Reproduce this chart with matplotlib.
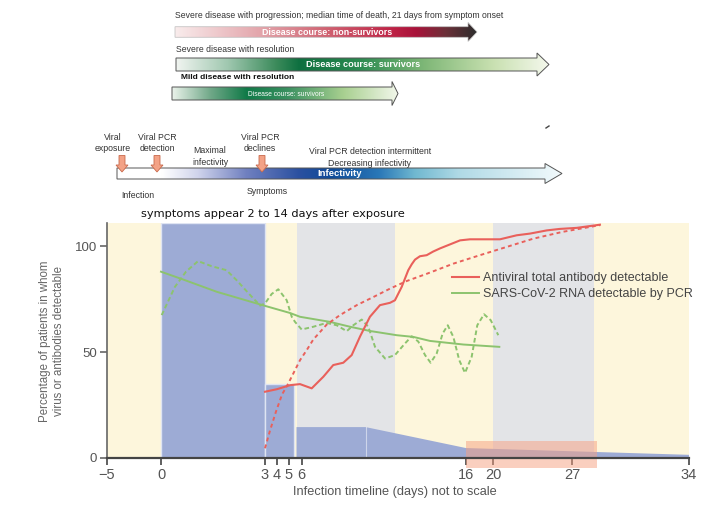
import numpy as np
import matplotlib
matplotlib.use("Agg")
import matplotlib.pyplot as plt
from matplotlib.patches import Polygon, Rectangle
from matplotlib.colors import LinearSegmentedColormap
from matplotlib.lines import Line2D
from matplotlib.ticker import NullLocator

# x axis is "not to scale": tick days
day_ticks = [-5, 0, 3, 4, 5, 6, 16, 20, 27, 34]
y_ticks = [0, 50, 100]

# antiviral total antibody (solid) and its trend (dashed)
ab_days = [3.0, 4.0, 5.08, 5.88, 6.62, 7.33, 7.93, 8.54, 9.05, 9.56, 10.16, 10.77,
           11.38, 11.68, 12.09, 12.49, 12.70, 12.90, 13.20, 13.61, 14.0, 14.42, 15.64,
           16.59, 17.5, 19.07, 20.62, 22.10, 23.28, 24.76, 25.9, 27.28, 28.67]
ab_pct = [31.3, 32.5, 34.4, 34.9, 32.9, 38.4, 43.9, 45.0, 48.6, 57.4, 66.7, 72.2,
          73.3, 74.5, 80.8, 88.7, 91.5, 93.7, 95.3, 95.8, 97.5, 99.0, 102.8,
          103.3, 103.3, 103.3, 103.3, 105.2, 106.0, 107.5, 108.2, 108.7, 110.2]
ab_trend_days = [3.0, 3.42, 3.92, 4.42, 4.94, 5.48, 5.88, 6.32, 6.72, 7.53, 8.34, 9.36,
                 10.36, 11.38, 12.40, 13.61, 15.23, 18.07, 21.21, 23.57, 26.15, 27.48, 28.68]
ab_trend_pct = [4.6, 13, 22, 30, 35.2, 41.5, 46.2, 51, 56, 63, 67.5, 72.2,
                76, 80, 83.6, 87, 91.8, 95.8, 99.7, 103.6, 106.8, 108.3, 110]

# SARS-CoV-2 RNA by PCR (dashed) and its trend (solid)
pcr_days = [0.02, 0.40, 0.72, 1.07, 1.46, 1.89, 2.18, 2.57, 2.86, 3.0, 3.56, 4.11, 4.81,
            5.22, 5.48, 6.01, 6.72, 7.53, 8.14, 8.75, 9.15, 9.66, 10.06, 10.47, 11.08,
            11.68, 12.29, 12.70, 13.10, 13.51, 13.85, 14.22, 14.58, 14.89, 15.23, 15.59,
            15.94, 16.84, 17.67, 18.67, 19.66, 20.47]
pcr_pct = [67.5, 80.8, 88, 93, 90.6, 88.7, 84, 77, 72, 73, 77.5, 79.7, 74.5,
           66.7, 64.3, 60.7, 62, 63.8, 62.7, 59.9, 62.7, 65.4, 62, 52.5, 47,
           48.6, 54.1, 57.5, 55, 48.6, 45, 49.4, 58.8, 62.7, 57.2, 46.2,
           40.2, 47.8, 62.7, 67.9, 65.1, 58]
pcr_trend_days = [0, 0.64, 1.61, 2.97, 5.08, 5.88, 7.73, 8.95, 10.16, 11.79, 12.80, 13.81, 15.84, 20.56]
pcr_trend_pct = [88, 84.3, 78.5, 72, 68.5, 66.7, 64.3, 62, 60, 58, 57.2, 55.3, 53.6, 52.5]

# background phases
band_edges = [-5, 0, 3, 5.6, 11.7, 20, 28.3, 34]
band_kind = ["pre", "blue", "pre", "gray", "pre", "gray", "pre"]

# infectivity blocks
early_days = [3, 5.4]
early_level = 35
infect_days = [5.6, 5.6, 9.9, 16, 34, 34]
infect_level = [0, 14.6, 14.6, 4.7, 1.5, 0]
sero_days = [16, 28.5]
sero_level = [-4.7, 8]

RED = "#e9605b"
GREEN = "#8cc36e"
BLUE = "#9dabd5"
band_colors = {"pre": "#fdf6dc", "blue": BLUE, "gray": "#e3e4e7"}
FONT = ["Liberation Sans", "DejaVu Sans"]

W, H = 727, 505
fig = plt.figure(figsize=(W / 100, H / 100), dpi=100)

# ---------- top diagram (pixel coordinates) ----------
deco = fig.add_axes([0, 0, 1, 1])
deco.axis("off")


def grad_arrow(x0, x1, yc, bh, hl, hh, stops, edge="#555555", lw=0.7):
    tip = x1 + hl
    verts = [(x0, yc - bh / 2), (x1, yc - bh / 2), (x1, yc - hh / 2), (tip, yc),
             (x1, yc + hh / 2), (x1, yc + bh / 2), (x0, yc + bh / 2)]
    poly = Polygon(verts, closed=True, facecolor="none", edgecolor=edge, lw=lw, zorder=3)
    deco.add_patch(poly)
    cmap = LinearSegmentedColormap.from_list("g", stops)
    grad = np.linspace(0, 1, 256).reshape(1, -1)
    im = deco.imshow(grad, cmap=cmap, extent=(x0, tip, yc + hh / 2, yc - hh / 2),
                     aspect="auto", zorder=2, interpolation="bilinear")
    im.set_clip_path(poly)


def down_arrow(x, y0, y1, tip):
    verts = [(x - 3, y0), (x + 3, y0), (x + 3, y1), (x + 6, y1), (x, tip),
             (x - 6, y1), (x - 3, y1)]
    deco.add_patch(Polygon(verts, closed=True, facecolor="#f3a286", edgecolor="#c8694c",
                           lw=0.6, zorder=4))


txt = dict(family=FONT, color="#333333")

deco.text(175, 16, "Severe disease with progression; median time of death, 21 days from symptom onset",
          fontsize=6.2, va="center", **txt)
grad_arrow(175, 468, 32, 10.5, 9, 19,
           [(0, "#f9ecec"), (0.28, "#e3a5ab"), (0.5, "#d06372"), (0.72, "#be2245"),
            (0.8, "#a8123a"), (0.9, "#6a3038"), (1, "#2d2d2d")], edge="#bbbbbb", lw=0.5)
deco.text(327, 32.5, "Disease course: non-survivors", fontsize=6.4, color="white",
          weight="bold", ha="center", va="center", family=FONT, zorder=5)

deco.text(176, 50, "Severe disease with resolution", fontsize=6.2, va="center", **txt)
grad_arrow(176, 537, 64.5, 13, 12, 23,
           [(0, "#f0f4f0"), (0.137, "#a0c8b0"), (0.27, "#3a8a5a"), (0.33, "#0e7040"),
            (0.49, "#2a8a50"), (0.67, "#80b878"), (0.85, "#c8e0b0"), (1, "#f4f8ec")])
deco.text(363, 64.5, "Disease course: survivors", fontsize=6.6, color="white",
          weight="bold", ha="center", va="center", family=FONT, zorder=5)

deco.text(181, 77.5, "Mild disease with resolution", fontsize=6, weight="bold",
          va="center", family=FONT, color="#111111")
grad_arrow(172, 392, 93.5, 13, 6, 24,
           [(0, "#eaf2ea"), (0.17, "#70a888"), (0.33, "#107a48"), (0.51, "#3a9060"),
            (0.76, "#a8d090"), (1, "#f2f7ea")])
deco.text(286, 94, "Disease course: survivors", fontsize=4.8, color="white",
          ha="center", va="center", family=FONT, zorder=5)

# infectivity timeline
grad_arrow(117, 545, 173.5, 11, 17, 20,
           [(0, "#ffffff"), (0.10, "#ffffff"), (0.18, "#d0d4ec"), (0.29, "#7080c0"),
            (0.41, "#2a50a0"), (0.48, "#0f4a98"), (0.59, "#2a78b8"), (0.67, "#70b8d0"),
            (0.77, "#b0dae6"), (1, "#f2fafc")])
deco.text(340, 174, "Infectivity", fontsize=6.8, color="white", weight="bold",
          ha="center", va="center", family=FONT, zorder=5)
for x in (122, 157, 262):
    down_arrow(x, 155.5, 165, 172)

lbl = dict(fontsize=6.3, ha="center", va="center", linespacing=1.35, **txt)
deco.text(113, 143, "Viral\nexposure", **lbl)
deco.text(157, 143, "Viral PCR\ndetection", **lbl)
deco.text(210, 156.5, "Maximal\ninfectivity", **lbl)
deco.text(260, 143, "Viral PCR\ndeclines", **lbl)
deco.text(370, 151, "Viral PCR detection intermittent", **lbl)
deco.text(370, 163, "Decreasing infectivity", **lbl)
deco.text(138, 195, "Infection", **lbl)
deco.text(267, 192, "Symptoms", **lbl)
deco.plot([546, 549], [128, 126], color="#444444", lw=1)

deco.text(141, 214, "symptoms appear 2 to 14 days after exposure", fontsize=8.2,
          va="center", family="DejaVu Sans", color="#111111")

deco.set_xlim(0, W)
deco.set_ylim(H, 0)

# ---------- main chart ----------
ax = fig.add_axes([107 / W, (H - 458) / H, 582 / W, 235 / H])
ax.set_facecolor("none")
axis_pos = [0, 54, 158, 170, 182, 194.5, 359, 386, 465, 582]


def fwd(x):
    return np.interp(x, day_ticks, axis_pos)


def inv(p):
    return np.interp(p, axis_pos, day_ticks)


ax.set_xscale("function", functions=(fwd, inv))

for a, b, k in zip(band_edges[:-1], band_edges[1:], band_kind):
    if k == "blue":
        ax.axvspan(a, b, facecolor=BLUE, edgecolor="#dfe4f2", lw=1, zorder=0.5)
    else:
        ax.axvspan(a, b, facecolor=band_colors[k], lw=0, zorder=0)

ax.fill_between(early_days, 0, early_level, facecolor=BLUE, edgecolor="#dfe4f2", lw=1, zorder=1)
ax.fill(infect_days, infect_level, facecolor=BLUE, edgecolor="none", zorder=1)
ax.plot([infect_days[2]] * 2, [0, infect_level[2]], color="white", lw=0.8, alpha=0.5, zorder=1.1)
ax.add_patch(Rectangle((sero_days[0], sero_level[0]), sero_days[1] - sero_days[0],
                       sero_level[1] - sero_level[0], facecolor="#f7a080", alpha=0.5,
                       lw=0, zorder=2, clip_on=False))

line_kw = dict(solid_joinstyle="round", dash_joinstyle="round", zorder=3)
ax.plot(pcr_trend_days, pcr_trend_pct, color=GREEN, lw=1.4, **line_kw)
ax.plot(pcr_days, pcr_pct, color=GREEN, lw=1.4, dashes=(2.4, 1.5), **line_kw)
ax.plot(ab_trend_days, ab_trend_pct, color=RED, lw=1.4, dashes=(2.0, 1.7), **line_kw)
ax.plot(ab_days, ab_pct, color=RED, lw=1.5, **line_kw)

ax.set_xlim(-5, 34)
ax.set_ylim(0, 111)
ax.set_xticks(day_ticks)
ax.set_yticks(y_ticks)
ax.xaxis.set_minor_locator(NullLocator())
for s in ("top", "right"):
    ax.spines[s].set_visible(False)
ax.spines["left"].set_color("#666666")
ax.spines["left"].set_linewidth(1.2)
ax.spines["bottom"].set_color("#444444")
ax.spines["bottom"].set_linewidth(1.6)
ax.spines["bottom"].set_zorder(4)
ax.tick_params(axis="x", length=5, width=1.2, color="#444444", labelsize=10.5,
               labelcolor="#555555", pad=2)
ax.tick_params(axis="y", length=5, width=1.2, color="#666666", labelsize=9.5,
               labelcolor="#555555", pad=2)
for t in ax.get_xticklabels() + ax.get_yticklabels():
    t.set_family(FONT)

handles = [Line2D([], [], color=RED, lw=1.5), Line2D([], [], color=GREEN, lw=1.4)]
ax.legend(handles, ["Antiviral total antibody detectable", "SARS-CoV-2 RNA detectable by PCR"],
          loc="upper left", bbox_to_anchor=(0.592, 0.79), frameon=False,
          prop={"family": FONT, "size": 9.0}, labelcolor="#444444",
          handlelength=2.2, handletextpad=0.3, labelspacing=0.3, borderaxespad=0, borderpad=0)

fig.text(52 / W, 1 - 341 / H, "Percentage of patients in whom\nvirus or antibodies detectable",
         rotation=90, ha="center", va="center", fontsize=8.3, color="#666666",
         family=FONT, linespacing=1.3)
fig.text(395 / W, 1 - 492 / H, "Infection timeline (days) not to scale", ha="center",
         va="center", fontsize=9.2, color="#555555", family=FONT)

fig.savefig("out.png", dpi=100)
